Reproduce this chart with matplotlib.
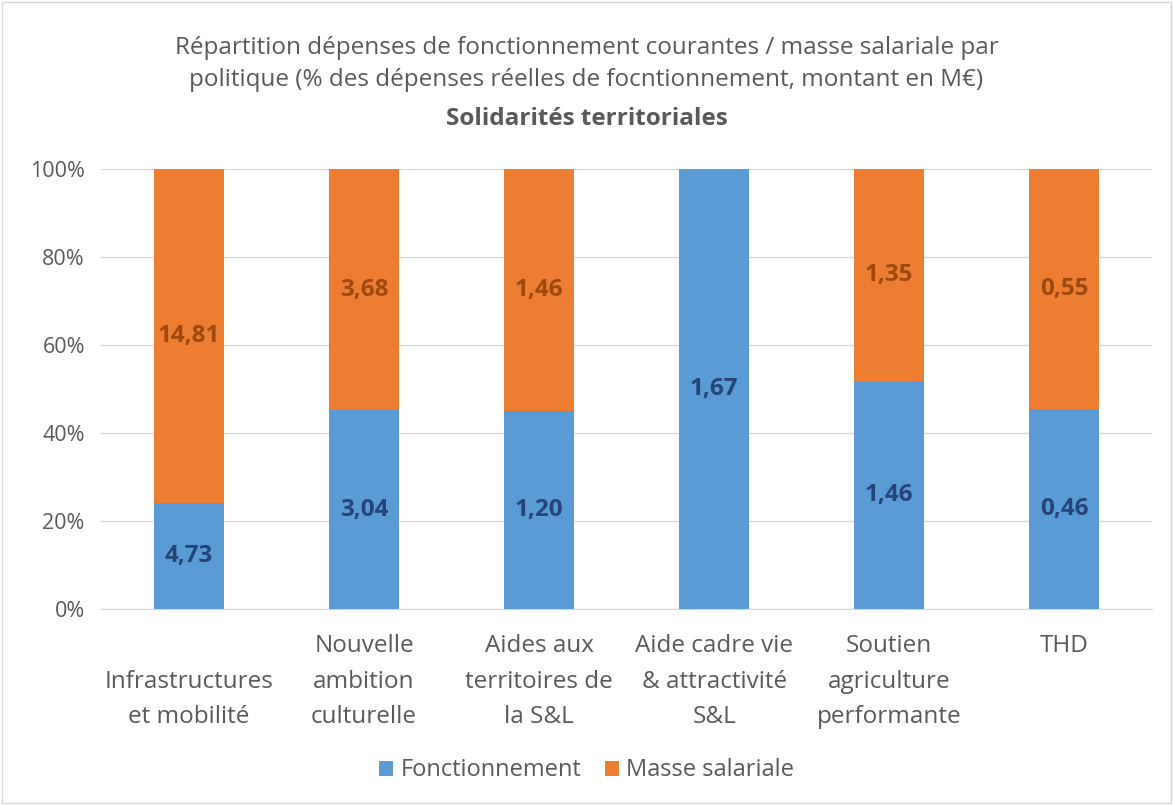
import numpy as np
import matplotlib
matplotlib.use("Agg")
import matplotlib.pyplot as plt
from matplotlib.patches import Rectangle

plt.rcParams['font.family'] = ['Open Sans', 'DejaVu Sans']

# donnees (M€)
categories = ['\nInfrastructures\net mobilité', 'Nouvelle\nambition\nculturelle',
              'Aides aux\nterritoires de\nla S&L', 'Aide cadre vie\n& attractivité\nS&L',
              'Soutien\nagriculture\nperformante', 'THD']
fonctionnement = [4.73, 3.04, 1.20, 1.67, 1.46, 0.46]
masse_salariale = [14.81, 3.68, 1.46, 0.0, 1.35, 0.55]
labels_fonct = ['4,73', '3,04', '1,20', '1,67', '1,46', '0,46']
labels_masse = ['14,81', '3,68', '1,46', '', '1,35', '0,55']

blue = '#5B9BD5'
orange = '#ED7D31'
grey_txt = '#595959'

f = np.array(fonctionnement)
m = np.array(masse_salariale)
tot = f + m
pf = f / tot
pm = m / tot
x = np.arange(len(categories))

fig = plt.figure(figsize=(11.73, 8.05), dpi=100, facecolor='white')
ax = fig.add_axes([0.0865, 0.243, 0.8955, 0.547])

ax.bar(x, pf, width=0.4, color=blue, label='Fonctionnement', zorder=3)
ax.bar(x, pm, width=0.4, bottom=pf, color=orange, label='Masse salariale', zorder=3)

for i in range(len(x)):
    if labels_fonct[i]:
        ax.text(x[i], pf[i] / 2, labels_fonct[i], ha='center', va='center',
                fontsize=17.5, fontweight='bold', color='#264478', zorder=4)
    if labels_masse[i]:
        ax.text(x[i], pf[i] + pm[i] / 2, labels_masse[i], ha='center', va='center',
                fontsize=17.5, fontweight='bold', color='#9E480E', zorder=4)

ax.set_xlim(-0.5, len(x) - 0.5)
ax.set_ylim(0, 1)
ax.set_yticks(np.arange(0, 1.01, 0.2))
ax.set_yticklabels(['%d%%' % v for v in range(0, 101, 20)])
ax.yaxis.grid(True, color='#D9D9D9', linewidth=1, zorder=0)
ax.set_xticks(x)
ax.set_xticklabels(categories, fontsize=17.5, color=grey_txt, linespacing=1.62)
ax.tick_params(axis='y', labelsize=15.5, colors=grey_txt, length=0, pad=12)
ax.tick_params(axis='x', length=0, pad=18)
for s in ['top', 'right', 'left']:
    ax.spines[s].set_visible(False)
ax.spines['bottom'].set_color('#D9D9D9')

fig.text(0.5, 0.920, 'Répartition dépenses de fonctionnement courantes / masse salariale par\n'
         'politique (% des dépenses réelles de focntionnement, montant en M€)',
         ha='center', va='center', fontsize=17.5, color=grey_txt, linespacing=1.45)
fig.text(0.5, 0.852, 'Solidarités territoriales', ha='center', va='center',
         fontsize=17.5, fontweight='bold', color=grey_txt)

leg = fig.legend(loc='center', bbox_to_anchor=(0.5, 0.043), ncol=2, frameon=False,
                 fontsize=17, handlelength=0.6, handleheight=0.6, columnspacing=1.0,
                 handletextpad=0.3)
for t in leg.get_texts():
    t.set_color(grey_txt)

fig.patches.append(Rectangle((0.002, 0.002), 0.996, 0.996, transform=fig.transFigure,
                             fill=False, edgecolor='#D9D9D9', linewidth=1))

fig.savefig('out.png', dpi=100, facecolor='white')
